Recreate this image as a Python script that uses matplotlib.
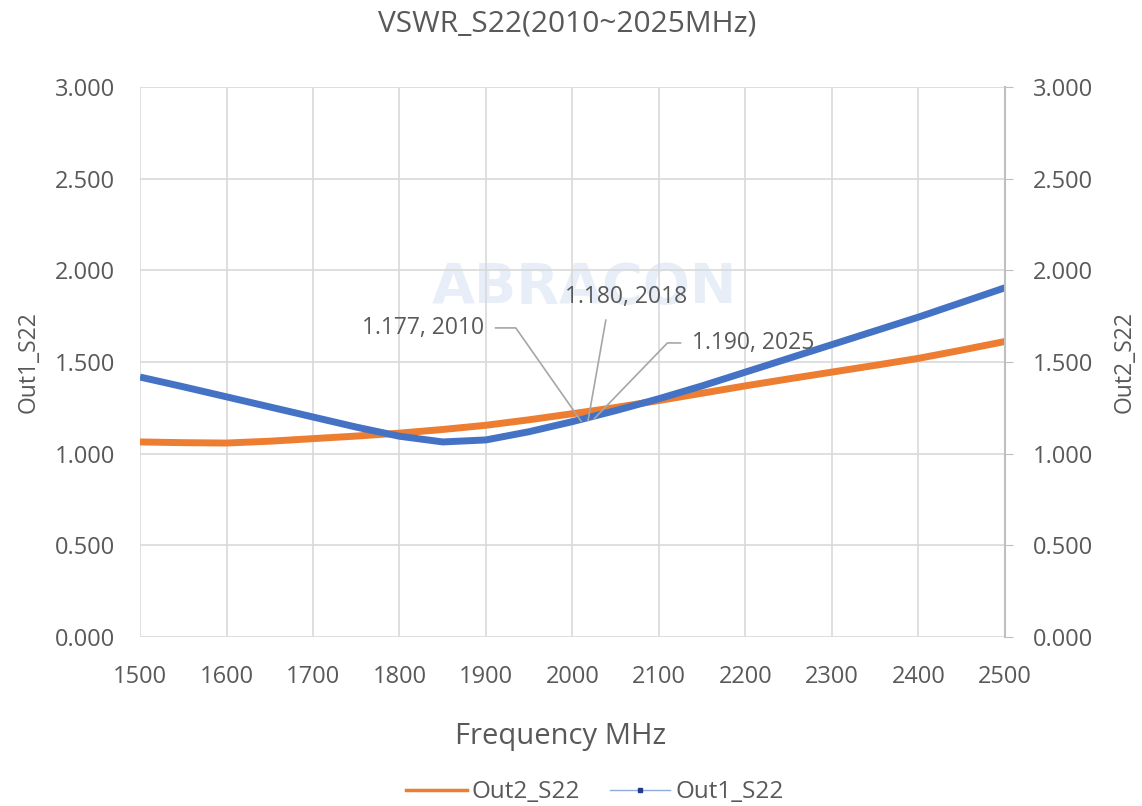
import numpy as np
import matplotlib.pyplot as plt
from matplotlib.lines import Line2D

plt.rcParams['font.family'] = ['Open Sans', 'DejaVu Sans']

# frequency points (MHz)
freq = [1500, 1550, 1600, 1650, 1700, 1750, 1800, 1850, 1900, 1950, 2000,
        2050, 2100, 2150, 2200, 2250, 2300, 2350, 2400, 2450, 2500]
out1_s22 = [1.418, 1.365, 1.31, 1.255, 1.20, 1.145, 1.095, 1.064, 1.075, 1.12, 1.175,
            1.235, 1.30, 1.37, 1.445, 1.52, 1.595, 1.67, 1.745, 1.825, 1.905]
out2_s22 = [1.064, 1.060, 1.058, 1.068, 1.082, 1.096, 1.112, 1.132, 1.155, 1.185, 1.218,
            1.252, 1.29, 1.33, 1.37, 1.408, 1.445, 1.482, 1.52, 1.565, 1.612]

# marker labels
ann_x = [2010, 2018, 2025]
ann_y = [1.177, 1.180, 1.190]
ann_text = ['1.177, 2010', '1.180, 2018', '1.190, 2025']
ann_pos = [(1898, 1.686), (2062, 1.855), (2138, 1.604)]
ann_ha = ['right', 'center', 'left']
ann_rel = [(1, 0.5), (0.35, 0), (0, 0.5)]
ann_conn = ['angle,angleA=0,angleB=125,rad=0', 'arc3,rad=0', 'angle,angleA=0,angleB=46,rad=0']

grey = '#595959'
grid = '#d9d9d9'

fig = plt.figure(figsize=(11.42, 8.06), dpi=100)
ax = fig.add_axes([0.1226, 0.2097, 0.7574, 0.6823])

ax.plot(freq, out2_s22, color='#ED7D31', lw=5, solid_capstyle='butt', zorder=3)
ax.plot(freq, out1_s22, color='#4472C4', lw=5, solid_capstyle='butt', zorder=4)

yt = np.arange(0, 3.01, 0.5)
ax.set_xlim(1500, 2500)
ax.set_ylim(0, 3)
ax.set_xticks(range(1500, 2501, 100))
ax.set_yticks(yt)
ax.set_yticklabels([f'{v:.3f}' for v in yt])
ax.grid(True, color=grid, lw=1.2)
for s in ax.spines.values():
    s.set_visible(False)
ax.tick_params(length=0, labelsize=17, labelcolor=grey)
ax.tick_params(axis='x', pad=20)
ax.tick_params(axis='y', pad=18)

ax2 = ax.twinx()
ax2.set_ylim(0, 3)
ax2.set_yticks(yt)
ax2.set_yticklabels([f'{v:.3f}' for v in yt])
for s in ax2.spines.values():
    s.set_visible(False)
ax2.spines['right'].set_visible(True)
ax2.spines['right'].set_color('#bfbfbf')
ax2.spines['right'].set_linewidth(1.5)
ax2.tick_params(axis='y', length=6, color='#bfbfbf', labelsize=17, labelcolor=grey, pad=14)

ax.set_xlabel('Frequency MHz', fontsize=21, color=grey, labelpad=24)
ax.xaxis.set_label_coords(0.486, -0.155)
ax.set_ylabel('Out1_S22', fontsize=16.5, color=grey, labelpad=10)
ax2.set_ylabel('Out2_S22', fontsize=16.5, color=grey, labelpad=14)
fig.suptitle('VSWR_S22(2010~2025MHz)', x=0.497, y=0.988, fontsize=21.5, color=grey)

# watermark
ax.text(0.514, 0.634, 'ABRACON', transform=ax.transAxes, fontsize=40, fontweight='bold',
        family='DejaVu Sans', color='#b4c7e7', alpha=0.3, ha='center', va='center', zorder=1)

for x, y, t, p, ha, rp, cs in zip(ann_x, ann_y, ann_text, ann_pos, ann_ha, ann_rel, ann_conn):
    ax.annotate(t, xy=(x, y), xytext=p, fontsize=16.5, color=grey, ha=ha, va='center',
                arrowprops=dict(arrowstyle='-', color='#a6a6a6', lw=1.2, relpos=rp,
                                shrinkA=6, shrinkB=0, connectionstyle=cs),
                zorder=5)

handles = [Line2D([], [], color='#ED7D31', lw=2.5),
           Line2D([], [], color='#8faadc', lw=1, marker='s', markersize=3,
                  markerfacecolor='#1f3d8a', markeredgecolor='#1f3d8a')]
fig.legend(handles, ['Out2_S22', 'Out1_S22'], loc='center', bbox_to_anchor=(0.521, 0.017),
           ncol=2, frameon=False, fontsize=17.5, labelcolor=grey, handlelength=2.5,
           columnspacing=1.2, handletextpad=0.2)

fig.savefig('out.png', dpi=100)
